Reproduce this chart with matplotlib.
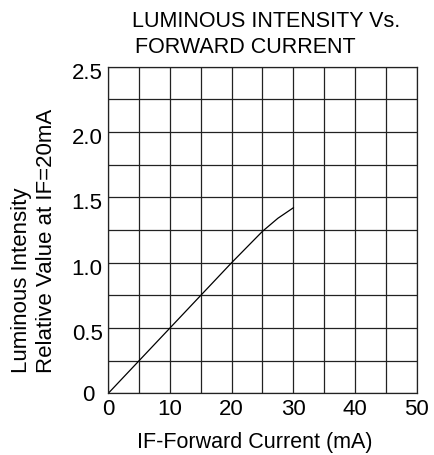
import matplotlib
matplotlib.use('Agg')
import matplotlib.pyplot as plt
import matplotlib.transforms as mtransforms
import numpy as np

# forward current (mA) vs relative luminous intensity
current = [0, 5, 10, 15, 20, 25, 27.5, 30]
intensity = [0, 0.25, 0.5, 0.75, 1.0, 1.24, 1.34, 1.42]

x_ticks = [0, 10, 20, 30, 40, 50]
x_labels = ['0', '10', '20', '30', '40', '50']
y_ticks = [0, 0.5, 1.0, 1.5, 2.0, 2.5]
y_labels = ['0', '0.5', '1.0', '1.5', '2.0', '2.5']

plt.rcParams['font.family'] = ['Liberation Sans', 'DejaVu Sans']

W, H = 435, 455
fig = plt.figure(figsize=(4.35, 4.55), dpi=100)
ax = fig.add_axes([108.3 / W, 1 - 393.3 / H, 308.4 / W, 326.6 / H])

ax.plot(current, intensity, color='black', linewidth=0.9)

ax.set_xlim(0, 50)
ax.set_ylim(0, 2.5)
ax.set_xticks(np.arange(0, 51, 5), minor=True)
ax.set_yticks(np.arange(0, 2.51, 0.25), minor=True)
ax.set_xticks(x_ticks)
ax.set_xticklabels(x_labels)
ax.set_yticks(y_ticks)
ax.set_yticklabels(y_labels)
ax.tick_params(which='both', length=0, labelsize=16, colors='black')
ax.tick_params(axis='x', pad=4)
ax.tick_params(axis='y', pad=4)
ax.grid(which='both', color='#222222', linewidth=0.9)
for s in ax.spines.values():
    s.set_linewidth(0.9)
    s.set_color('#222222')

# y labels sit a little below their grid lines, the 0 further left
for lab in ax.get_yticklabels():
    if lab.get_text() == '0':
        off = mtransforms.ScaledTranslation(-8 / 100, 0, fig.dpi_scale_trans)
    else:
        off = mtransforms.ScaledTranslation(0, -4 / 100, fig.dpi_scale_trans)
    lab.set_transform(lab.get_transform() + off)

fig.text(132 / W, 1 - 26.7 / H, 'LUMINOUS INTENSITY Vs.', fontsize=15.5,
         ha='left', va='baseline')
fig.text(135 / W, 1 - 53.3 / H, 'FORWARD CURRENT', fontsize=15.5,
         ha='left', va='baseline')

fig.text(27 / W, 1 - 373 / H, 'Luminous Intensity', fontsize=16,
         rotation=90, rotation_mode='anchor', ha='left', va='baseline')
fig.text(52 / W, 1 - 373 / H, 'Relative Value at IF=20mA', fontsize=16,
         rotation=90, rotation_mode='anchor', ha='left', va='baseline')

fig.text(255 / W, 1 - 448 / H, 'IF-Forward Current (mA)', fontsize=15.5,
         ha='center', va='baseline')

fig.savefig('out.png', dpi=100)
